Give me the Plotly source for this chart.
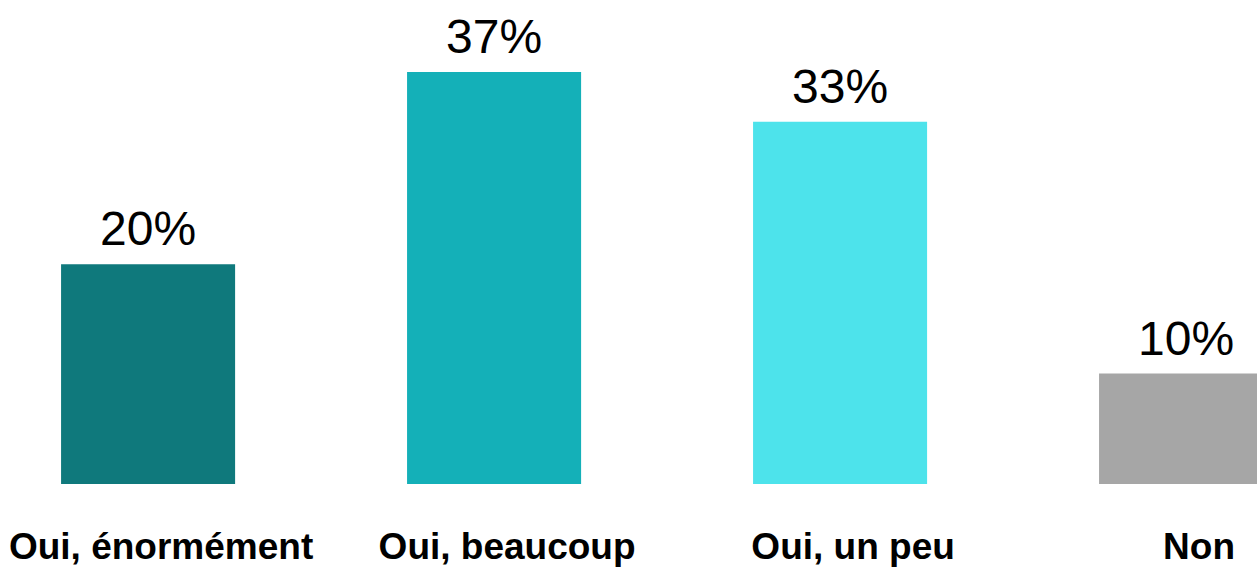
import plotly.graph_objects as go

categories = ["Oui, énormément", "Oui, beaucoup", "Oui, un peu", "Non"]
values = [19.9, 37.3, 32.8, 10.0]
value_labels = ["20%", "37%", "33%", "10%"]
colors = ["#0F797C", "#14B0B8", "#4DE3EB", "#A6A6A6"]

fig = go.Figure(
    go.Bar(
        x=categories,
        y=values,
        marker=dict(color=colors, line=dict(width=0)),
        width=0.503,
        cliponaxis=False,
        hoverinfo="skip",
    )
)

for c, v, t in zip(categories, values, value_labels):
    fig.add_annotation(
        x=c, y=v, text=t, showarrow=False,
        yanchor="bottom", xanchor="center", yshift=7,
        font=dict(family="Liberation Sans, Arial, sans-serif", size=48, color="#000000"),
    )

fig.update_layout(
    width=1257,
    height=567,
    margin=dict(l=0, r=0, t=0, b=83),
    plot_bgcolor="white",
    paper_bgcolor="white",
    showlegend=False,
    xaxis=dict(
        range=[-0.428, 3.205],
        automargin=False,
        showgrid=False,
        showline=False,
        zeroline=False,
        ticks="",
        ticklabelshift=13,
        ticklabelstandoff=37,
        tickfont=dict(family="Liberation Sans, Arial, sans-serif", size=37, color="#000000", weight="bold"),
    ),
    yaxis=dict(
        range=[0, 43.82],
        automargin=False,
        visible=False,
        showgrid=False,
        zeroline=False,
    ),
)

fig.write_html(
    "out.html",
    config={"displayModeBar": False},
    post_script="document.body.style.margin='0';document.body.style.overflow='hidden';",
)
